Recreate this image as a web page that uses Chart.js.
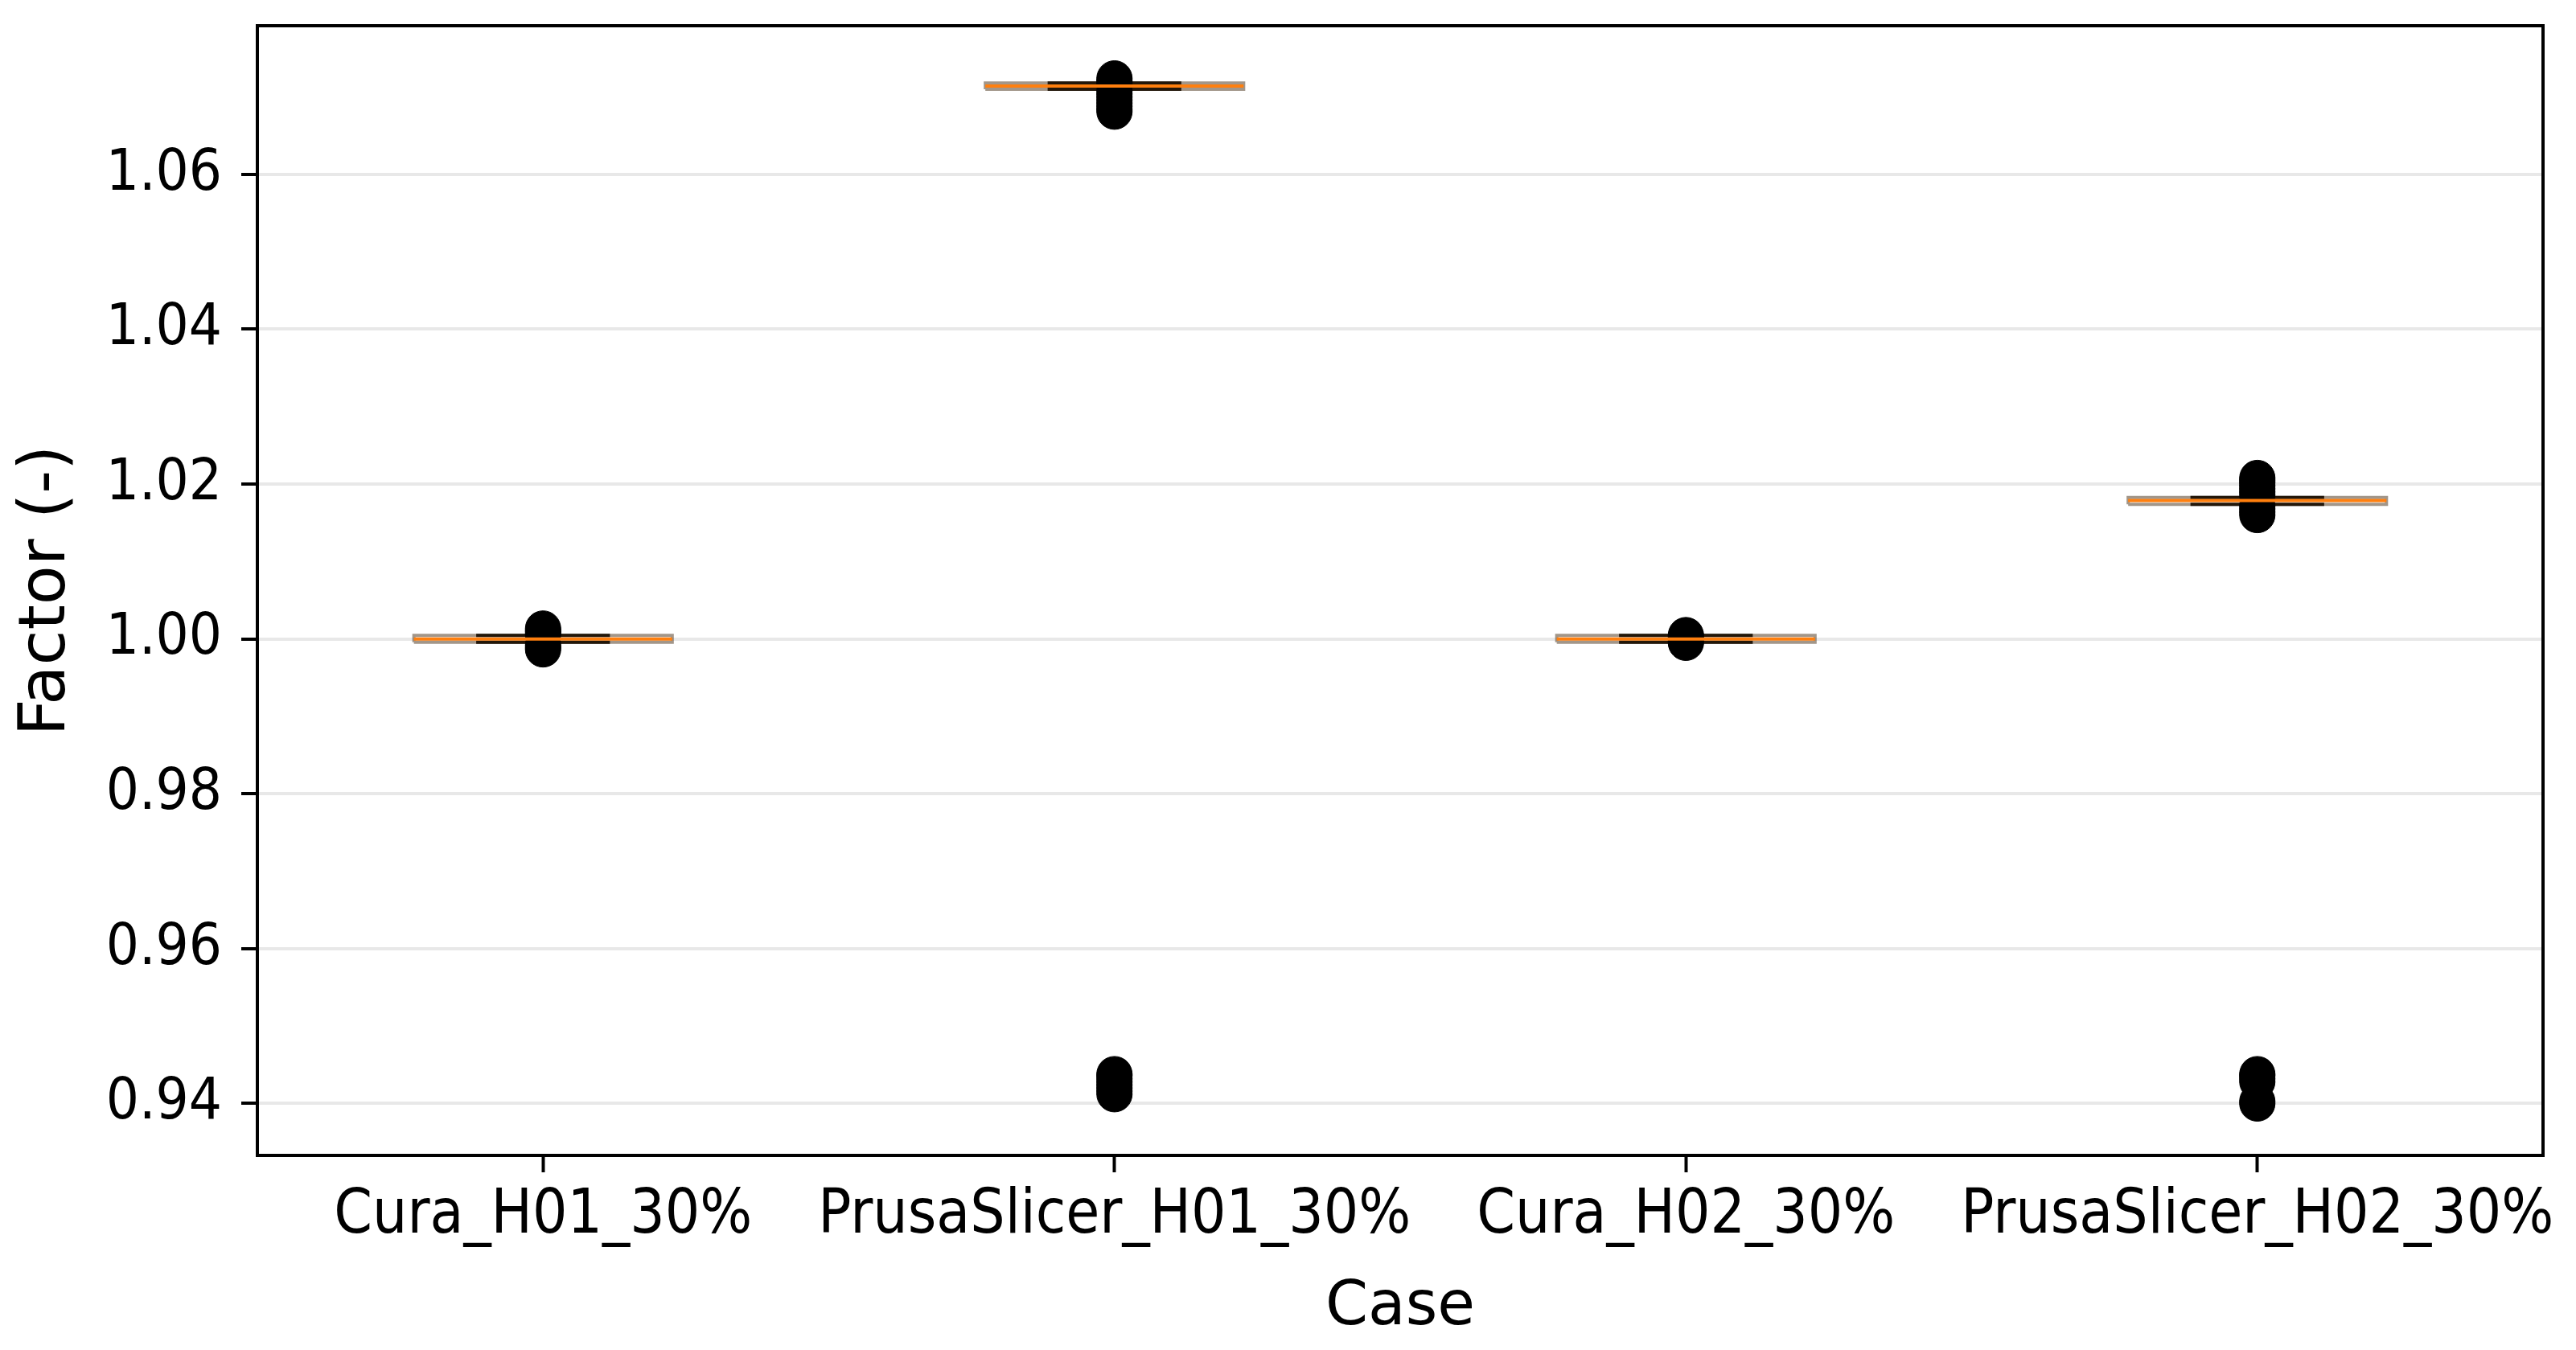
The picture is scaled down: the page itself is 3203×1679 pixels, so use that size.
<!DOCTYPE html>
<html>
<head>
<meta charset="utf-8">
<script src="https://cdn.jsdelivr.net/npm/chart.js@4.4.1/dist/chart.umd.min.js"></script>
<style>
  html, body { margin:0; padding:0; background:#fff; }
  #wrap { width:3203px; height:1679px; }
</style>
</head>
<body>
<div id="wrap"><canvas id="chart" width="3203" height="1679"></canvas></div>
<script>
/* ---------- Data ---------- */
const categories   = ['Cura_H01_30%', 'PrusaSlicer_H01_30%', 'Cura_H02_30%', 'PrusaSlicer_H02_30%'];
const q1Values     = [0.99958, 1.07100, 0.99958, 1.01738];
const medianValues = [1.00000, 1.07140, 1.00000, 1.01788];
const q3Values     = [1.00045, 1.07180, 1.00045, 1.01827];
const whiskerLow   = [0.99958, 1.07100, 0.99958, 1.01738];
const whiskerHigh  = [1.00045, 1.07180, 1.00045, 1.01827];
const fliers = [
  [0.99865, 0.99890, 0.99920, 1.00060, 1.00090, 1.00110, 1.00135],
  [1.0681, 1.0684, 1.0688, 1.0692, 1.0696, 1.0700, 1.0704, 1.0708, 1.0718, 1.0721, 1.0724,
   0.9412, 0.9416, 0.9420, 0.9424, 0.9428, 0.9432, 0.9436, 0.9438],
  [0.9995, 0.9997, 1.0003, 1.0005],
  [1.0160, 1.0164, 1.0168, 1.0172, 1.0186, 1.0190, 1.0194, 1.0198, 1.0202, 1.0205, 1.0208,
   0.9400, 0.9403, 0.9428, 0.9432, 0.9436, 0.9438]
];
const yTicks = [0.94, 0.96, 0.98, 1.00, 1.02, 1.04, 1.06];
const yMin = 0.9333, yMax = 1.0792;

/* ---------- Box pieces ---------- */
const BOX_HALF = 0.226;   // half box width, in category units
const CAP_HALF = 0.117;
const ORANGE = '#ff7f0e';
const TICK_FONT = "'DejaVu Sans Condensed', 'DejaVu Sans', sans-serif";
const TITLE_FONT = "'DejaVu Sans', sans-serif";

function seg(points, color, width, order){
  return { type:'line', data:points, borderColor:color, borderWidth:width,
           pointRadius:0, fill:false, tension:0, order };
}

const datasets = [];
categories.forEach((name, i) => {
  const x = i + 1;
  datasets.push(seg([
    {x:x-BOX_HALF, y:q1Values[i]}, {x:x+BOX_HALF, y:q1Values[i]},
    {x:x+BOX_HALF, y:q3Values[i]}, {x:x-BOX_HALF, y:q3Values[i]},
    {x:x-BOX_HALF, y:q1Values[i]}
  ], 'rgba(70,45,20,0.5)', 4, 3));
  datasets.push(seg([{x, y:q1Values[i]}, {x, y:whiskerLow[i]}], '#000', 4, 3));
  datasets.push(seg([{x, y:q3Values[i]}, {x, y:whiskerHigh[i]}], '#000', 4, 3));
  datasets.push(seg([{x:x-CAP_HALF, y:whiskerLow[i]}, {x:x+CAP_HALF, y:whiskerLow[i]}], '#000', 4, 3));
  datasets.push(seg([{x:x-CAP_HALF, y:whiskerHigh[i]}, {x:x+CAP_HALF, y:whiskerHigh[i]}], '#000', 4, 3));
  datasets.push(seg([{x:x-BOX_HALF, y:medianValues[i]}, {x:x+BOX_HALF, y:medianValues[i]}], ORANGE, 4, 0));
});
datasets.push({
  type:'scatter',
  data: fliers.flatMap((vals, i) => vals.map(v => ({x:i+1, y:v}))),
  pointRadius:22, pointHoverRadius:22,
  backgroundColor:'#000', borderColor:'#000', borderWidth:1,
  order:1
});

// axes frame drawn on top of the data, like matplotlib spines
const framePlugin = {
  id:'frame',
  afterDatasetsDraw(chart){
    const {ctx, chartArea:a} = chart;
    ctx.save();
    ctx.strokeStyle = '#000';
    ctx.lineWidth = 4;
    ctx.strokeRect(a.left, a.top, a.right - a.left, a.bottom - a.top);
    ctx.restore();
  }
};

new Chart(document.getElementById('chart'), {
  type:'line',
  data:{ datasets },
  plugins:[framePlugin],
  options:{
    responsive:false,
    devicePixelRatio:1,
    animation:false,
    layout:{ padding:{ top:32, right:41, left:0, bottom:0 } },
    plugins:{ legend:{ display:false }, tooltip:{ enabled:false } },
    scales:{
      x:{
        type:'linear', min:0.5, max:4.5,
        afterBuildTicks: s => { s.ticks = categories.map((c, i) => ({ value:i+1 })); },
        afterFit: s => { s.height = 242; s.paddingLeft = 0; s.paddingRight = 0; },
        ticks:{
          callback: v => categories[v-1] || '',
          autoSkip:false, maxRotation:0, color:'#000', padding:10,
          font:{ family:TICK_FONT, size:76 }
        },
        grid:{ drawOnChartArea:false, drawTicks:true, tickLength:21, tickWidth:4, tickColor:'#000' },
        border:{ display:false },
        title:{ display:true, text:'Case', color:'#000',
                font:{ family:TITLE_FONT, size:76 }, padding:{ top:0, bottom:6 } }
      },
      y:{
        type:'linear', min:yMin, max:yMax,
        afterBuildTicks: s => { s.ticks = yTicks.map(v => ({ value:v })); },
        afterFit: s => { s.width = 320; s.paddingTop = 0; s.paddingBottom = 0; },
        ticks:{
          callback: v => Number(v).toFixed(2),
          color:'#000', padding:24,
          font:{ family:TICK_FONT, size:72 }
        },
        grid:{ color:'#e8e8e8', lineWidth:4, tickLength:20, tickWidth:4, tickColor:'#000' },
        border:{ display:false },
        title:{ display:true, text:'Factor (-)', color:'#000',
                font:{ family:TITLE_FONT, size:80 }, padding:{ top:11, bottom:0 } }
      }
    }
  }
});
</script>
</body>
</html>
